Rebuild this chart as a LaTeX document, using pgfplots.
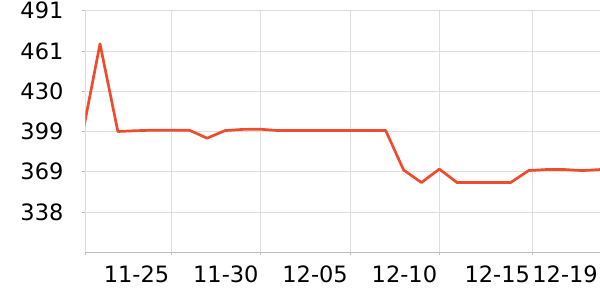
\documentclass[border=0pt]{standalone}
\usepackage{pgfplots}
\pgfplotsset{compat=1.18}
\usepackage{fontspec}
\setmainfont{DejaVu Sans}
\definecolor{lineorange}{RGB}{238,76,44}
\definecolor{gridgray}{RGB}{221,221,221}
\definecolor{axisgray}{RGB}{190,190,190}
\begin{document}
\begin{tikzpicture}
\path[use as bounding box] (-85.3bp,-47.7bp) rectangle (514.7bp,252.3bp);
\begin{axis}[
  at={(0,0)}, anchor=south west,
  scale only axis,
  width=514.7bp, height=241.6bp,
  xmin=-0.823, xmax=28,
  ymin=307.6, ymax=491.2,
  axis x line*=bottom, axis y line*=left,
  x axis line style={draw=axisgray, line width=0.9bp, -},
  y axis line style={draw=gridgray, line width=0.9bp, -},
  xtick={-0.823,4,9,14,19,24.2,28},
  xticklabels={,11-25,11-30,12-05,12-10,12-15,12-19},
  ytick={338.2,368.8,399.4,430,460.6,491.2},
  yticklabels={338,369,399,430,461,491},
  tick align=outside,
  major tick length=3bp,
  tick style={draw=axisgray, line width=0.8bp},
  grid=major,
  major grid style={draw=gridgray, line width=0.9bp},
  /pgf/number format/assume math mode=true,
  ticklabel style={font=\fontsize{22.5bp}{27bp}\selectfont, text=black, inner sep=0pt},
  xticklabel style={anchor=north east, xshift=-2bp, yshift=-10.7bp},
  yticklabel style={anchor=east, xshift=-18.7bp},
  clip=true,
]
\addplot[lineorange, line width=2.7bp, line join=round] coordinates {
(-1,396) (0,466) (1,399.4) (2,400) (3,400.4) (4,400.4) (5,400.4) (6,394.3)
(7,400.1) (8,401) (9,401.1) (10,400.1) (11,400.1) (12,400.1) (13,400.1)
(14,400.1) (15,400.1) (16,400.1) (17,370.2) (18,360.6) (19,370.8) (20,360.6)
(21,360.6) (22,360.6) (23,360.6) (24,369.7) (25,370.5) (26,370.5) (27,369.7) (28,370.5)
};
\end{axis}
\end{tikzpicture}
\end{document}
